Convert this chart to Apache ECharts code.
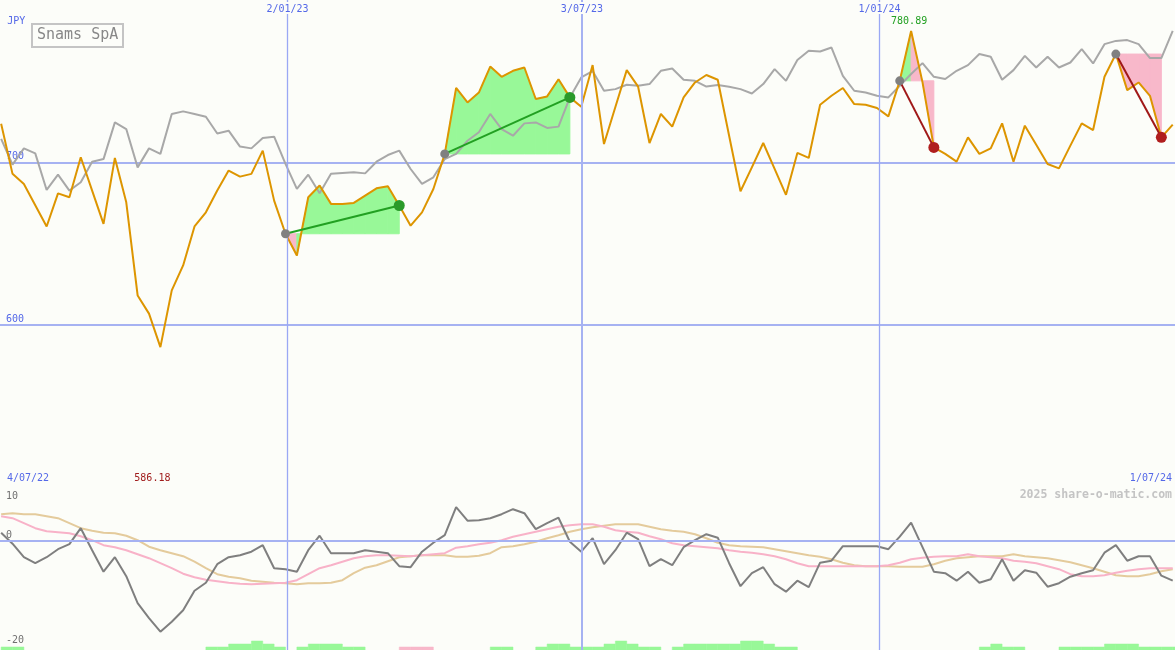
<!DOCTYPE html>
<html><head><meta charset="utf-8">
<script src="https://cdn.jsdelivr.net/npm/echarts@6/dist/echarts.min.js"></script>
<style>html,body{margin:0;padding:0;background:#fcfdf9;}#c{width:1175px;height:650px;}</style>
</head><body><div id="c"></div>
<script>
// ---- data (weekly points, index 0..103) ----
const priceLine = [723.8, 692.9, 686.7, 673.6, 660.5, 680.9, 678.5, 703.1, 682.6, 662.1,
 702.7, 675.4, 618.0, 606.8, 586.18, 621.1, 636.5, 660.5, 669.2, 682.6,
 694.9, 691.2, 692.9, 707.2, 676.4, 656.0, 642.6, 678.5, 685.7, 674.4,
 674.4, 675.0, 679.5, 684.0, 685.2, 673.4, 661.0, 669.2, 683.6, 705.2,
 745.8, 736.9, 743.0, 759.0, 752.7, 756.4, 758.4, 739.0, 740.6, 751.2,
 740.0, 734.3, 759.9, 711.3, 734.1, 756.8, 746.6, 711.9, 729.8, 722.0,
 740.0, 749.2, 753.8, 750.9, 716.4, 682.2, 696.9, 711.9, 696.0, 680.0,
 705.8, 702.7, 735.5, 741.0, 745.8, 735.9, 735.5, 733.5, 728.3, 750.2,
 780.89, 749.4, 709.2, 705.2, 700.4, 715.4, 705.2, 708.6, 724.0, 700.4,
 722.6, 710.9, 699.0, 696.3, 710.3, 724.0, 719.9, 752.7, 766.7, 744.5,
 749.2, 741.0, 715.4, 723.2];
const indexLine = [714.4, 698.6, 708.6, 705.5, 683.0, 692.4, 682.6, 687.7, 700.4, 702.0,
 724.6, 720.5, 696.9, 708.6, 705.2, 729.8, 731.4, 729.8, 728.1, 717.8,
 719.5, 709.7, 708.6, 715.0, 715.8, 699.0, 683.6, 692.4, 680.9, 692.9,
 693.5, 693.9, 693.2, 700.4, 704.5, 707.2, 695.9, 686.7, 690.8, 702.0,
 705.2, 713.3, 718.5, 729.8, 720.5, 716.4, 724.0, 724.6, 721.2, 722.0,
 740.0, 752.3, 756.2, 744.1, 745.1, 747.8, 747.2, 748.2, 756.4, 757.8,
 750.9, 750.2, 746.7, 747.6, 746.6, 745.1, 742.4, 748.2, 757.4, 750.2,
 763.0, 768.7, 768.3, 770.7, 753.3, 744.1, 743.0, 741.0, 740.0, 747.2,
 754.4, 761.1, 752.7, 751.3, 756.4, 759.9, 766.7, 765.0, 750.9, 756.8,
 765.6, 758.4, 765.0, 758.4, 761.5, 769.7, 760.9, 772.8, 774.8, 775.3,
 772.8, 764.2, 764.2, 781.0];
const oscLine = [1.6, -0.6, -3.3, -4.5, -3.3, -1.7, -0.7, 2.5, -1.9, -6.2,
 -3.3, -7.1, -12.5, -15.5, -18.2, -16.2, -13.9, -10.0, -8.4, -4.7,
 -3.3, -2.9, -2.2, -0.9, -5.5, -5.7, -6.2, -1.9, 1.0, -2.5,
 -2.5, -2.5, -1.9, -2.2, -2.5, -5.1, -5.3, -2.2, -0.4, 1.1,
 6.7, 4.0, 4.1, 4.5, 5.3, 6.3, 5.5, 2.3, 3.5, 4.6,
 -0.2, -2.2, 0.5, -4.7, -1.9, 1.6, 0.3, -5.1, -3.7, -4.9,
 -1.3, 0.1, 1.3, 0.6, -4.5, -9.1, -6.5, -5.3, -8.7, -10.2,
 -8.0, -9.3, -4.4, -4.0, -1.1, -1.1, -1.1, -1.1, -1.7, 0.8,
 3.6, -1.3, -6.2, -6.5, -8.0, -6.2, -8.4, -7.7, -3.7, -8.0,
 -5.9, -6.4, -9.2, -8.5, -7.2, -6.5, -5.9, -2.4, -0.9, -4.0,
 -3.1, -3.1, -7.0, -8.0];
const oscPink = [4.9, 4.5, 3.5, 2.5, 1.9, 1.7, 1.5, 0.9, 0.1, -0.9,
 -1.3, -1.9, -2.7, -3.5, -4.5, -5.5, -6.6, -7.3, -7.8, -8.1,
 -8.4, -8.6, -8.7, -8.6, -8.5, -8.4, -7.9, -6.7, -5.5, -4.9,
 -4.2, -3.5, -3.1, -2.9, -2.9, -3.0, -3.1, -2.9, -2.7, -2.5,
 -1.4, -1.1, -0.7, -0.4, 0.1, 0.8, 1.3, 1.8, 2.3, 2.8,
 3.1, 3.3, 3.3, 2.8, 2.1, 1.8, 1.6, 0.9, 0.3, -0.5,
 -0.9, -1.1, -1.3, -1.5, -1.9, -2.2, -2.4, -2.7, -3.1, -3.7,
 -4.5, -5.1, -5.1, -5.1, -5.1, -5.1, -5.1, -5.1, -4.9, -4.4,
 -3.7, -3.4, -3.2, -3.1, -3.1, -2.7, -3.1, -3.3, -3.5, -4.0,
 -4.2, -4.5, -5.1, -5.7, -6.7, -7.1, -7.1, -6.9, -6.4, -6.0,
 -5.7, -5.5, -5.5, -5.5];
const oscTan = [5.3, 5.5, 5.3, 5.3, 4.9, 4.5, 3.5, 2.5, 2.0, 1.6,
 1.5, 1.0, 0.1, -1.2, -1.9, -2.5, -3.1, -4.2, -5.5, -6.7,
 -7.2, -7.5, -8.0, -8.2, -8.4, -8.5, -8.7, -8.5, -8.5, -8.4,
 -7.9, -6.5, -5.4, -4.9, -4.1, -3.3, -3.1, -2.9, -2.9, -2.9,
 -3.2, -3.2, -3.0, -2.5, -1.3, -1.1, -0.7, -0.2, 0.5, 1.1,
 1.8, 2.3, 2.7, 3.0, 3.3, 3.3, 3.3, 2.8, 2.3, 2.0,
 1.8, 1.3, 0.5, -0.4, -0.9, -1.1, -1.2, -1.3, -1.7, -2.1,
 -2.5, -2.9, -3.2, -3.7, -4.4, -4.9, -5.1, -5.1, -5.1, -5.2,
 -5.2, -5.2, -4.7, -4.0, -3.5, -3.3, -3.1, -3.1, -3.1, -2.7,
 -3.1, -3.3, -3.5, -3.9, -4.3, -4.9, -5.5, -6.2, -6.9, -7.1,
 -7.1, -6.7, -6.1, -5.7];
const volBars = [1, 1, 0, 0, 0, 0, 0, 0, 0, 0,
 0, 0, 0, 0, 0, 0, 0, 0, 1, 1,
 2, 2, 3, 2, 1, 0, 1, 2, 2, 2,
 1, 1, 0, 0, 0, -1, -1, -1, 0, 0,
 0, 0, 0, 1, 1, 0, 0, 1, 2, 2,
 1, 1, 1, 2, 3, 2, 1, 1, 0, 1,
 2, 2, 2, 2, 2, 3, 3, 2, 1, 1,
 0, 0, 0, 0, 0, 0, 0, 0, 0, 0,
 0, 0, 0, 0, 0, 0, 1, 2, 1, 1,
 0, 0, 0, 1, 1, 1, 1, 2, 2, 2,
 1, 1, 1, 1];
const tradeStart = [25, 39, 79, 98];
const tradeEnd = [35, 50, 82, 102];
const dateLinePos = [25.176, 51.06, 77.22];
const dateLineLabels = ['2/01/23', '3/07/23', '1/01/24'];
const rangeLabels = ['4/07/22', '1/07/24'];
const priceTicks = [600, 700];
const oscTicks = [10, 0, -20];
const titleText = 'Snams SpA';
const currency = 'JPY';
const credit = '2025 share-o-matic.com';

// ---- styles ----
const FONT = '"DejaVu Sans Mono", monospace';
const BG = '#fcfdf9', BLUE = '#5468e8', GRID = '#a6b2f2', VLINE = '#9aa8f4';
const GREEN_FILL = '#98f898', PINK_FILL = '#f8b8ca';

const chart = echarts.init(document.getElementById('c'));
const idx = a => a.map((v, i) => [i, v]);

const fillData = [];
tradeStart.forEach((s, k) => {
  const e = tradeEnd[k], base = priceLine[s];
  for (let i = s; i < e; i++) fillData.push([i, base, priceLine[i], priceLine[i + 1]]);
});

const vLines = dateLinePos.map((x, k) => {
  const thick = dateLineLabels[k].indexOf('/07/') >= 0;
  return { xAxis: x, lineStyle: { color: thick ? GRID : VLINE, type: 'solid', width: thick ? 2 : 1.3 } };
});

const tradeSeries = tradeStart.map((s, k) => {
  const e = tradeEnd[k];
  const gain = priceLine[e] >= priceLine[s];
  return {
    type: 'line', xAxisIndex: 0, yAxisIndex: 0, z: 5,
    symbol: 'circle', showAllSymbol: true,
    lineStyle: { color: gain ? '#22a022' : '#a01818', width: 2 },
    data: [
      { value: [s, priceLine[s]], symbolSize: 9, itemStyle: { color: '#808080' } },
      { value: [e, priceLine[e]], symbolSize: 11, itemStyle: { color: gain ? '#2a9a2a' : '#b01e1e' } }
    ]
  };
});

const option = {
  animation: false,
  backgroundColor: BG,
  title: [
    { text: titleText, left: 32, top: 24, borderColor: '#c4c4c4', borderWidth: 2, padding: [4, 5, 4, 5],
      textStyle: { fontFamily: FONT, fontSize: 15, fontWeight: 'normal', color: '#888888' } },
    { text: credit, right: 3, top: 489, padding: 0,
      textStyle: { fontFamily: FONT, fontSize: 11.5, fontWeight: 'bold', color: '#c4c4c4' } }
  ],
  graphic: [
    { type: 'text', left: 7, top: 473, z: 10, style: { text: rangeLabels[0], fill: BLUE, font: '10px ' + FONT } },
    { type: 'text', right: 3, top: 473, z: 10, style: { text: rangeLabels[1], fill: BLUE, font: '10px ' + FONT } }
  ],
  grid: [
    { left: 0, right: 0, top: 0, bottom: 163 },
    { left: 0, right: 0, top: 487, bottom: 0 }
  ],
  xAxis: [
    { gridIndex: 0, type: 'value', min: -0.1, max: 103.2, position: 'top', z: 10,
      axisLine: { show: false }, axisTick: { show: false }, splitLine: { show: false },
      axisLabel: { inside: true, customValues: dateLinePos, margin: 2, color: BLUE, fontFamily: FONT, fontSize: 10,
        backgroundColor: BG, padding: [2, 1, 0, 1],
        formatter: v => { const k = dateLinePos.indexOf(v); return k >= 0 ? dateLineLabels[k] : ''; } } },
    { gridIndex: 1, type: 'value', min: -0.1, max: 103.2, position: 'top',
      axisLine: { show: true, lineStyle: { color: '#7a88ee', width: 2 } }, axisTick: { show: false },
      axisLabel: { show: false }, splitLine: { show: false } }
  ],
  yAxis: [
    { gridIndex: 0, type: 'value', min: 500, max: 800, interval: 100,
      name: currency, nameLocation: 'end', nameGap: -26,
      nameTextStyle: { align: 'left', color: BLUE, fontFamily: FONT, fontSize: 10, padding: [0, 0, 0, 6] },
      axisLine: { show: false }, axisTick: { show: false },
      axisLabel: { inside: true, margin: 6, verticalAlign: 'bottom', lineHeight: 11, color: BLUE, fontFamily: FONT, fontSize: 10,
        formatter: v => priceTicks.indexOf(v) >= 0 ? String(v) : '' },
      splitLine: { show: true, showMinLine: false, showMaxLine: false, lineStyle: { color: GRID, width: 2 } } },
    { gridIndex: 1, type: 'value', min: -21.86, max: 10.74,
      axisLine: { show: false }, axisTick: { show: false }, splitLine: { show: false },
      axisLabel: { inside: true, margin: 6, customValues: oscTicks, verticalAlign: 'middle', lineHeight: 11,
        color: '#707070', fontFamily: FONT, fontSize: 10,
        formatter: v => v > 0 ? '\n' + v : (v === 0 ? '0\n' : String(v)) } },
    { gridIndex: 1, type: 'value', min: 0, max: 54.33, show: false }
  ],
  series: [
    { type: 'custom', xAxisIndex: 0, yAxisIndex: 0, z: 1, data: fillData, encode: { x: 0, y: 1 },
      renderItem: (params, api) => {
        const i = api.value(0), base = api.value(1), a = api.value(2), b = api.value(3);
        const pts = [api.coord([i, base]), api.coord([i, a]), api.coord([i + 1, b]), api.coord([i + 1, base])];
        const c = b >= base ? GREEN_FILL : PINK_FILL;
        return { type: 'polygon', shape: { points: pts }, style: { fill: c, stroke: c, lineWidth: 1 } };
      } },
    { type: 'line', xAxisIndex: 0, yAxisIndex: 0, data: idx(indexLine), symbol: 'none',
      lineStyle: { color: '#a8a8a8', width: 2 },
      markLine: { silent: true, symbol: ['none', 'none'], label: { show: false }, data: vLines } },
    { type: 'line', xAxisIndex: 0, yAxisIndex: 0, data: idx(priceLine), symbol: 'none', z: 3,
      lineStyle: { color: '#dd9500', width: 2 },
      markPoint: {
        symbol: 'circle', symbolSize: 1, itemStyle: { color: 'rgba(0,0,0,0)' },
        label: { show: true, fontFamily: FONT, fontSize: 10, formatter: p => Number(p.value).toFixed(2) },
        data: [
          { type: 'max', label: { position: 'top', distance: 4, offset: [-2, 0], color: '#22a022' } },
          { type: 'min', label: { position: 'bottom', distance: 126, offset: [-8, 0], color: '#a01c1c' } }
        ]
      } },
    ...tradeSeries,
    { type: 'custom', xAxisIndex: 1, yAxisIndex: 2, data: idx(volBars).filter(d => d[1] !== 0), encode: { x: 0, y: 1 },
      renderItem: (params, api) => {
        const i = api.value(0), v = api.value(1);
        const p0 = api.coord([i, 0]), p1 = api.coord([i + 1, Math.abs(v)]);
        const c = v > 0 ? GREEN_FILL : PINK_FILL;
        return { type: 'rect', shape: { x: p0[0], y: p1[1], width: p1[0] - p0[0], height: p0[1] - p1[1] },
          style: { fill: c, stroke: c, lineWidth: 0.5 } };
      } },
    { type: 'line', xAxisIndex: 1, yAxisIndex: 1, data: idx(oscTan), symbol: 'none',
      lineStyle: { color: '#e4cb9c', width: 2 } },
    { type: 'line', xAxisIndex: 1, yAxisIndex: 1, data: idx(oscPink), symbol: 'none',
      lineStyle: { color: '#f8b2c8', width: 2 } },
    { type: 'line', xAxisIndex: 1, yAxisIndex: 1, data: idx(oscLine), symbol: 'none',
      lineStyle: { color: '#7f7f7f', width: 2 },
      markLine: { silent: true, symbol: ['none', 'none'], label: { show: false },
        data: vLines.concat([{ yAxis: 0, lineStyle: { color: GRID, type: 'solid', width: 2 } }]) } }
  ]
};
chart.setOption(option);
</script>
</body></html>
